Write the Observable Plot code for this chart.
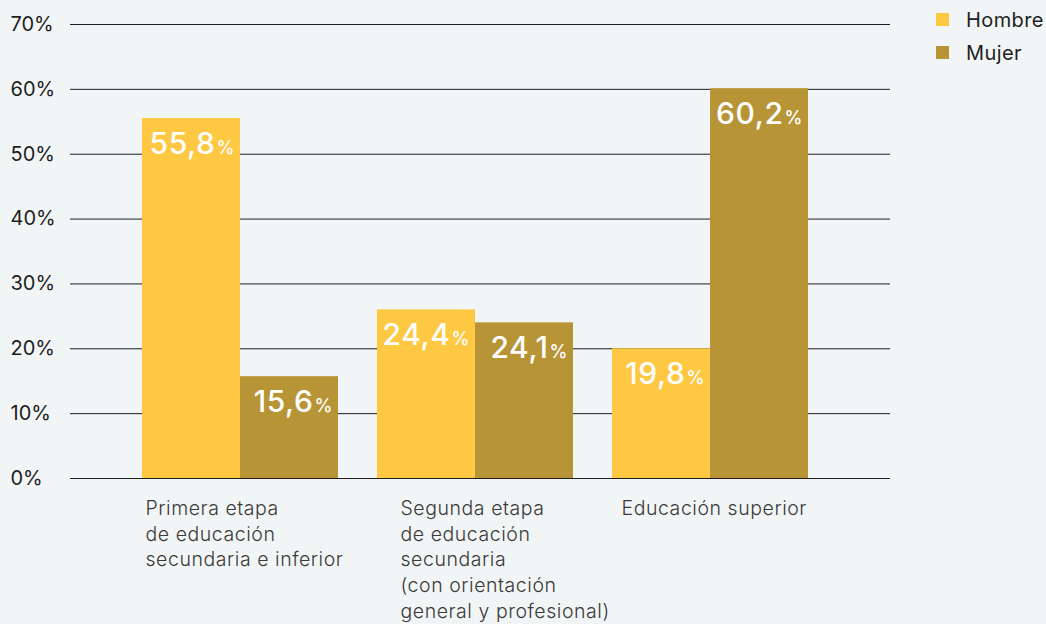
<!DOCTYPE html>
<html><head><meta charset="utf-8">
<script src="https://cdn.jsdelivr.net/npm/d3@7"></script>
<script src="https://cdn.jsdelivr.net/npm/@observablehq/plot@0.6"></script>
<style>
body{margin:0;background:#f2f5f6;font-family:Inter,"Liberation Sans",sans-serif;}
#wrap{position:relative;width:1046px;height:624px;overflow:hidden;}
#legend{position:absolute;left:936px;top:3px;font-size:20px;color:#1e1e1e;letter-spacing:0.4px;}
#legend .row{display:flex;align-items:center;height:33px;}
#legend .sw{width:13px;height:13px;margin-right:17px;}
g[aria-description="xlabels"] text{letter-spacing:0.55px;}
g[aria-description="values"] text{letter-spacing:0.6px;}
</style></head><body><div id="wrap"><div id="legend"></div></div>
<script>
const categories = [
  "Primera etapa\nde educación\nsecundaria e inferior",
  "Segunda etapa\nde educación\nsecundaria\n(con orientación\ngeneral y profesional)",
  "Educación superior"
];
const series = ["Hombre", "Mujer"];
const hombre = [55.5, 26.0, 20.0];
const mujer = [15.7, 24.0, 60.1];
const hombreLabels = ["55,8", "24,4", "19,8"];
const mujerLabels = ["15,6", "24,1", "60,2"];
const yTicks = [0, 10, 20, 30, 40, 50, 60, 70];
const colors = ["#fec843", "#b79536"];

const rowsH = categories.map((c, i) => ({cat: c, sex: series[0], v: hombre[i], label: hombreLabels[i]}));
const rowsM = categories.map((c, i) => ({cat: c, sex: series[1], v: mujer[i], label: mujerLabels[i]}));

const half = 98;
const labelDx = [-95, -75, -89];

const chart = Plot.plot({
  width: 1046, height: 624,
  marginLeft: 70, marginRight: 156, marginTop: 24, marginBottom: 146,
  style: {background: "transparent", fontFamily: "Inter, 'Liberation Sans', sans-serif", overflow: "visible"},
  x: {domain: categories, paddingInner: 0.166, paddingOuter: 0.3275, align: 0.4675, axis: null},
  y: {domain: [0, 70], axis: null},
  marks: [
    Plot.ruleY(yTicks, {y: d => d, stroke: "#1e1e1e", strokeWidth: 1}),
    Plot.barY(rowsH, {x: "cat", y: "v", fill: colors[0], insetRight: half}),
    Plot.barY(rowsM, {x: "cat", y: "v", fill: colors[1], insetLeft: half}),
    Plot.text(rowsH, {x: "cat", y: "v", text: "label", fill: "white", fontSize: 30, fontWeight: 500, textAnchor: "end", lineAnchor: "bottom", dx: -half/2 + 24, dy: 35, ariaDescription: "values"}),
    Plot.text(rowsH, {x: "cat", y: "v", text: () => "%", fill: "white", fontSize: 18, fontWeight: 500, textAnchor: "start", lineAnchor: "bottom", dx: -half/2 + 25, dy: 35}),
    Plot.text(rowsM, {x: "cat", y: "v", text: "label", fill: "white", fontSize: 30, fontWeight: 500, textAnchor: "end", lineAnchor: "bottom", dx: half/2 + 24, dy: 35, ariaDescription: "values"}),
    Plot.text(rowsM, {x: "cat", y: "v", text: () => "%", fill: "white", fontSize: 18, fontWeight: 500, textAnchor: "start", lineAnchor: "bottom", dx: half/2 + 25, dy: 35}),
    Plot.text(yTicks, {y: d => d, text: d => d + "%", frameAnchor: "left", textAnchor: "start", dx: -60, fontSize: 20, fill: "#1e1e1e"}),
    ...categories.map((c, i) => Plot.text([c], {x: d => d, text: d => d, frameAnchor: "bottom", lineAnchor: "top", textAnchor: "start", dx: labelDx[i], dy: 18, fontSize: 19.5, fontWeight: 300, lineHeight: 1.32, fill: "#3a3a3a", ariaDescription: "xlabels"}))
  ]
});
document.getElementById("wrap").appendChild(chart);

const legend = document.getElementById("legend");
series.forEach((s, i) => {
  const row = document.createElement("div");
  row.className = "row";
  row.innerHTML = `<div class="sw" style="background:${colors[i]}"></div><span>${s}</span>`;
  legend.appendChild(row);
});
</script>
</body></html>
